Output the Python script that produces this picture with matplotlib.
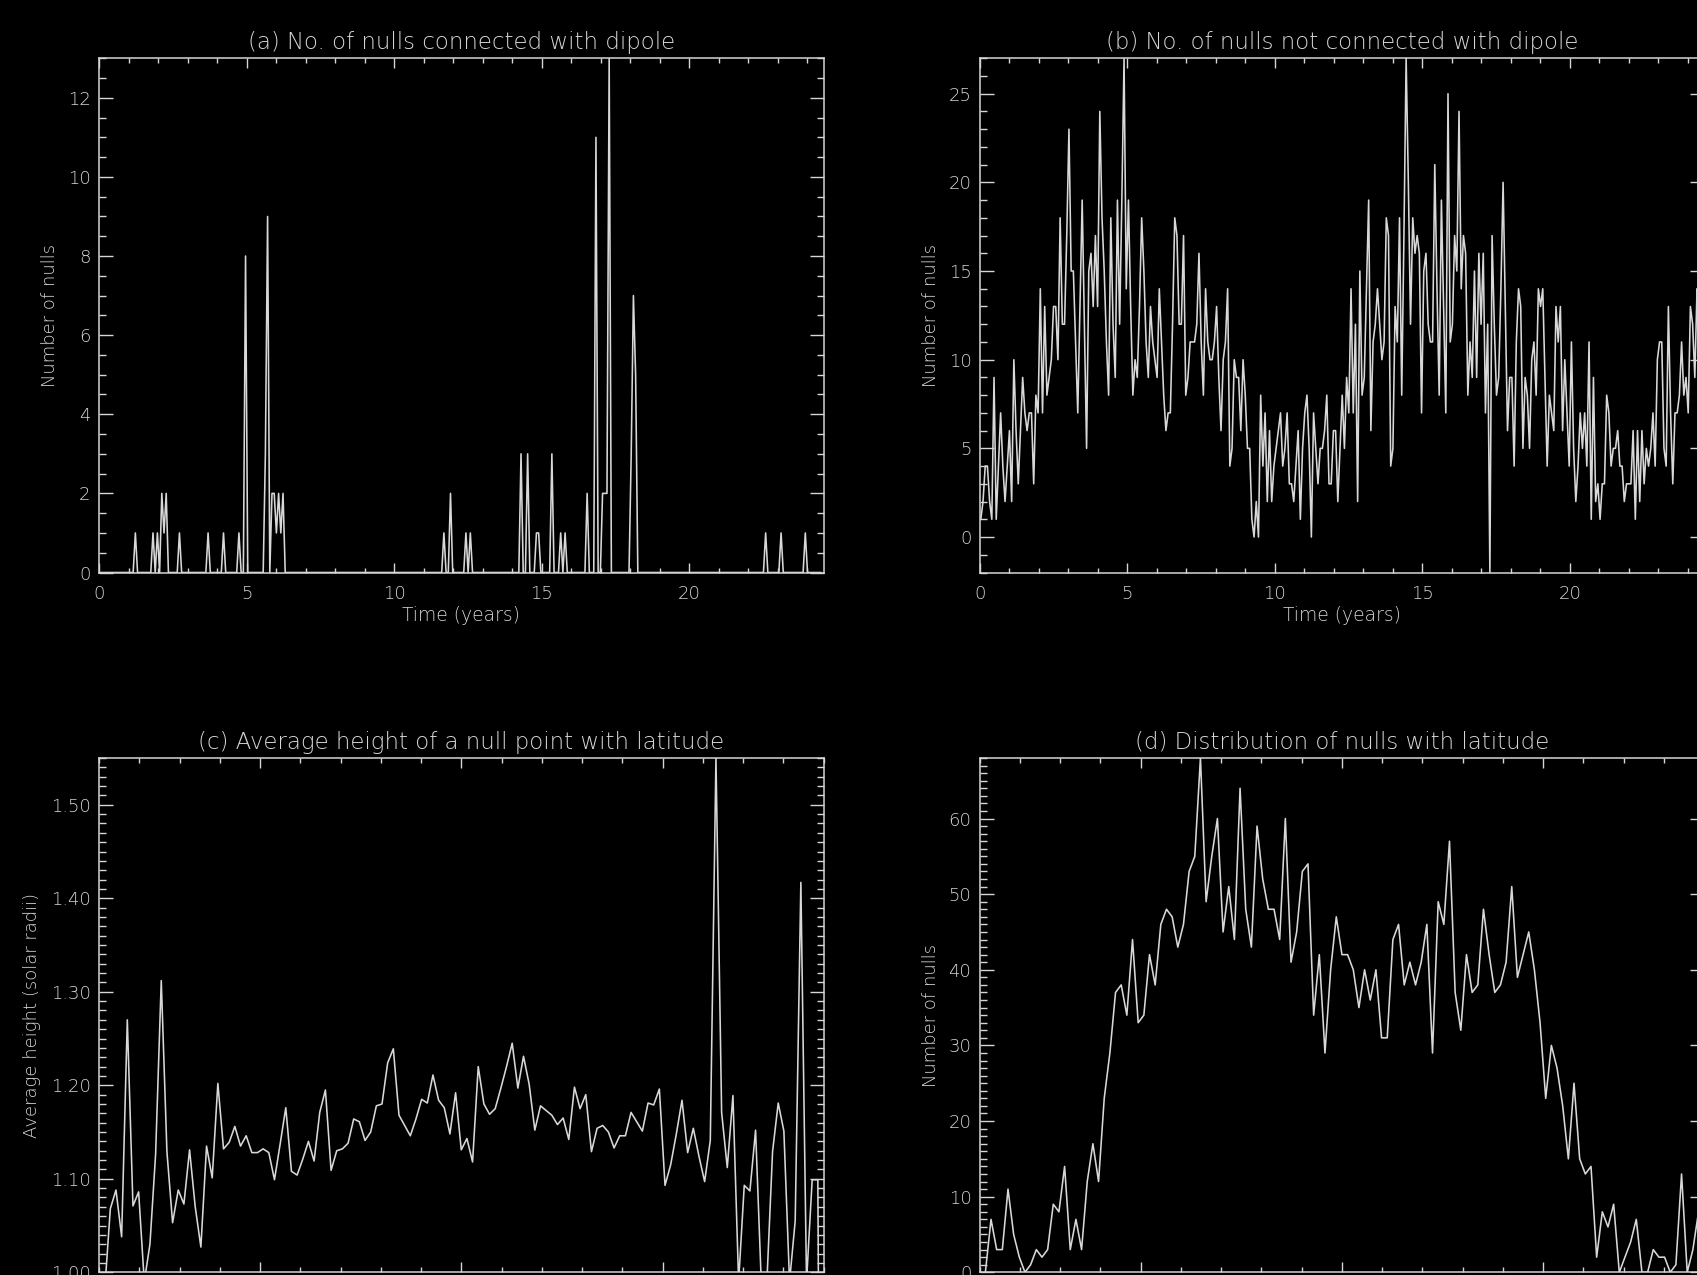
import numpy as np
import matplotlib.pyplot as plt
from matplotlib.ticker import MultipleLocator, FormatStrFormatter

# one sample per Carrington rotation
CR_YEARS = 27.2753 / 365.25
N_ROT = 328

# (a) nulls connected with the dipole: rotation index -> count (all others are 0)
conn_counts = {16: 1, 24: 1, 26: 1, 28: 2, 29: 1, 30: 2, 36: 1, 49: 1, 56: 1,
               63: 1, 66: 8, 75: 3, 76: 9, 78: 2, 79: 2, 80: 1, 81: 2, 82: 1,
               83: 2, 156: 1, 159: 2, 166: 1, 168: 1, 191: 3, 194: 3, 198: 1,
               199: 1, 205: 3, 209: 1, 211: 1, 221: 2, 225: 11, 228: 2, 229: 2,
               230: 2, 231: 13, 241: 3, 242: 7, 243: 5, 302: 1, 309: 1, 320: 1}

# (b) nulls not connected with the dipole, per rotation
free_counts = [
    1, 2, 4, 4, 2, 1, 9, 1, 4, 7, 4, 2, 4, 6, 2, 10, 6, 3, 6, 9,
    7, 6, 7, 7, 3, 8, 7, 14, 7, 13, 8, 9, 10, 13, 13, 10, 18, 12, 12, 17,
    23, 15, 15, 11, 7, 13, 19, 12, 5, 15, 16, 13, 17, 13, 24, 18, 15, 11, 8, 18,
    12, 9, 19, 12, 19, 27, 14, 19, 13, 8, 10, 9, 13, 18, 15, 11, 9, 13, 11, 10,
    9, 14, 11, 8, 6, 7, 7, 12, 18, 17, 12, 12, 17, 8, 9, 11, 11, 11, 12, 16,
    11, 8, 14, 11, 10, 10, 11, 13, 9, 6, 10, 11, 14, 4, 5, 10, 9, 9, 6, 10,
    8, 5, 5, 1, 0, 2, 0, 8, 4, 7, 2, 6, 2, 4, 5, 6, 7, 4, 5, 7,
    3, 3, 2, 4, 6, 1, 5, 7, 8, 5, 0, 7, 5, 3, 5, 5, 6, 8, 3, 3,
    6, 6, 2, 5, 8, 5, 9, 7, 14, 7, 12, 2, 15, 8, 9, 14, 19, 6, 11, 12,
    14, 12, 10, 11, 18, 17, 4, 5, 13, 11, 18, 8, 17, 27, 20, 12, 18, 16, 17, 16,
    7, 15, 16, 12, 11, 11, 21, 14, 8, 19, 13, 7, 25, 11, 12, 17, 15, 24, 14, 17,
    16, 8, 11, 9, 15, 9, 16, 12, 16, 7, 12, -2, 17, 12, 8, 9, 14, 20, 13, 6,
    9, 9, 4, 11, 14, 13, 5, 9, 8, 5, 10, 11, 8, 14, 13, 14, 9, 4, 8, 7,
    6, 13, 11, 13, 6, 10, 7, 4, 11, 5, 2, 4, 7, 5, 7, 4, 11, 1, 9, 2,
    3, 1, 3, 3, 8, 7, 4, 5, 5, 6, 4, 4, 2, 3, 3, 3, 6, 1, 6, 2,
    6, 3, 5, 4, 5, 7, 4, 10, 11, 11, 5, 4, 13, 7, 3, 7, 7, 8, 11, 8,
    9, 7, 13, 12, 9, 14, 11, 9,
]

# (c) average null height per latitude bin (128 bins, 0 = empty bin)
avg_height = [
    0.98, 1.068, 1.088, 1.038, 1.270, 1.071, 1.086, 0.99, 1.030, 1.126,
    1.312, 1.129, 1.053, 1.088, 1.073, 1.131, 1.070, 1.027, 1.135, 1.101,
    1.202, 1.132, 1.139, 1.156, 1.135, 1.146, 1.128, 1.128, 1.132, 1.128,
    1.099, 1.137, 1.176, 1.108, 1.104, 1.121, 1.140, 1.119, 1.171, 1.195,
    1.109, 1.130, 1.132, 1.138, 1.164, 1.161, 1.141, 1.150, 1.178, 1.180,
    1.224, 1.239, 1.168, 1.157, 1.146, 1.164, 1.185, 1.181, 1.211, 1.184,
    1.176, 1.148, 1.192, 1.131, 1.143, 1.118, 1.220, 1.180, 1.169, 1.175,
    1.197, 1.220, 1.245, 1.197, 1.231, 1.201, 1.152, 1.178, 1.173, 1.168,
    1.158, 1.165, 1.142, 1.198, 1.175, 1.190, 1.129, 1.154, 1.157, 1.150,
    1.133, 1.146, 1.146, 1.171, 1.161, 1.151, 1.181, 1.179, 1.196, 1.093,
    1.115, 1.148, 1.184, 1.128, 1.154, 1.124, 1.097, 1.141, 1.550, 1.171,
    1.112, 1.189, 0.99, 1.093, 1.087, 1.152, 0.99, 0.99, 1.129, 1.181,
    1.151, 0.99, 1.055, 1.417, 0.99, 1.099, 1.099, 0.0,
]

# (d) number of nulls per latitude bin
lat_counts = [
    0, 7, 3, 3, 11, 5, 2, 0, 1, 3, 2, 3, 9, 8, 14, 3, 7, 3, 12, 17,
    12, 23, 29, 37, 38, 34, 44, 33, 34, 42, 38, 46, 48, 47, 43, 46, 53, 55, 68, 49,
    55, 60, 45, 51, 44, 64, 48, 43, 59, 52, 48, 48, 44, 60, 41, 45, 53, 54, 34, 42,
    29, 40, 47, 42, 42, 40, 35, 40, 36, 40, 31, 31, 44, 46, 38, 41, 38, 41, 46, 29,
    49, 46, 57, 37, 32, 42, 37, 38, 48, 42, 37, 38, 41, 51, 39, 42, 45, 40, 33, 23,
    30, 27, 22, 15, 25, 15, 13, 14, 2, 8, 6, 9, 0, 2, 4, 7, 0, 0, 3, 2,
    2, 0, 1, 13, 0, 3, 8, 5,
]

time = (np.arange(N_ROT) + 0.5) * CR_YEARS
conn = np.zeros(N_ROT)
for k, v in conn_counts.items():
    conn[k] = v
lat = -90 + (np.arange(len(lat_counts)) + 1) * 180 / len(lat_counts)

FG = '#d6d6d6'
plt.rcParams['font.family'] = ['DejaVu Sans']
plt.rcParams['font.weight'] = 'light'

W, H = 1697, 1275
fig = plt.figure(figsize=(W / 100, H / 100), dpi=100, facecolor='black')


def panel(left, top, width=724.5, height=514.3):
    return fig.add_axes([left / W, (H - top - height) / H, width / W, height / H])


def style(ax, xmaj, xmin, ymaj, ymin, yfmt):
    ax.set_facecolor('black')
    for s in ax.spines.values():
        s.set_color(FG)
        s.set_linewidth(1.1)
    ax.xaxis.set_major_locator(MultipleLocator(xmaj))
    ax.xaxis.set_minor_locator(MultipleLocator(xmin))
    ax.yaxis.set_major_locator(MultipleLocator(ymaj))
    ax.yaxis.set_minor_locator(MultipleLocator(ymin))
    ax.yaxis.set_major_formatter(FormatStrFormatter(yfmt))
    ax.tick_params(which='both', direction='in', top=True, right=True,
                   colors=FG, labelsize=13, width=1.0)
    ax.tick_params(axis='x', which='major', length=7.4, pad=9)
    ax.tick_params(axis='x', which='minor', length=3.7)
    ax.tick_params(axis='y', which='major', length=10.4, pad=6)
    ax.tick_params(axis='y', which='minor', length=5.2)


def labels(ax, title, ylabel, ylab_off, xlabel=None):
    ax.text(0.5, 1 + 16 / 514.3, title, transform=ax.transAxes,
            ha='center', va='center', color=FG, fontsize=16.5)
    ax.text(-ylab_off / 724.5, 0.5, ylabel, transform=ax.transAxes, rotation=90,
            ha='center', va='center', color=FG, fontsize=13)
    if xlabel:
        ax.text(0.5, -43 / 514.3, xlabel, transform=ax.transAxes,
                ha='center', va='center', color=FG, fontsize=13.5)


line_kw = dict(color='#d8d8d8', lw=1.15)

# (a)
ax = panel(99, 58.2)
ax.plot(time, conn, **line_kw)
ax.set_xlim(0, 24.55)
ax.set_ylim(0, 13)
style(ax, 5, 1, 2, 0.5, '%d')
labels(ax, '(a) No. of nulls connected with dipole', 'Number of nulls', 49,
       'Time (years)')

# (b)
ax = panel(979.7, 58.2)
ax.plot(time, free_counts, **line_kw)
ax.set_xlim(0, 24.55)
ax.set_ylim(-2, 27)
style(ax, 5, 1, 5, 1, '%d')
labels(ax, '(b) No. of nulls not connected with dipole', 'Number of nulls', 49,
       'Time (years)')

# (c)
ax = panel(99, 758)
ax.plot(lat, avg_height, **line_kw)
ax.set_xlim(-90, 90)
ax.set_ylim(1.0, 1.55)
style(ax, 50, 10, 0.1, 0.01, '%.2f')
ax.tick_params(axis='x', labelbottom=False)
labels(ax, '(c) Average height of a null point with latitude',
       'Average height (solar radii)', 66.5)

# (d)
ax = panel(979.7, 758)
ax.plot(lat, lat_counts, **line_kw)
ax.set_xlim(-90, 90)
ax.set_ylim(0, 68)
style(ax, 50, 10, 10, 1, '%d')
ax.tick_params(axis='x', labelbottom=False)
labels(ax, '(d) Distribution of nulls with latitude', 'Number of nulls', 49)

fig.savefig('out.png', dpi=100, facecolor='black')
